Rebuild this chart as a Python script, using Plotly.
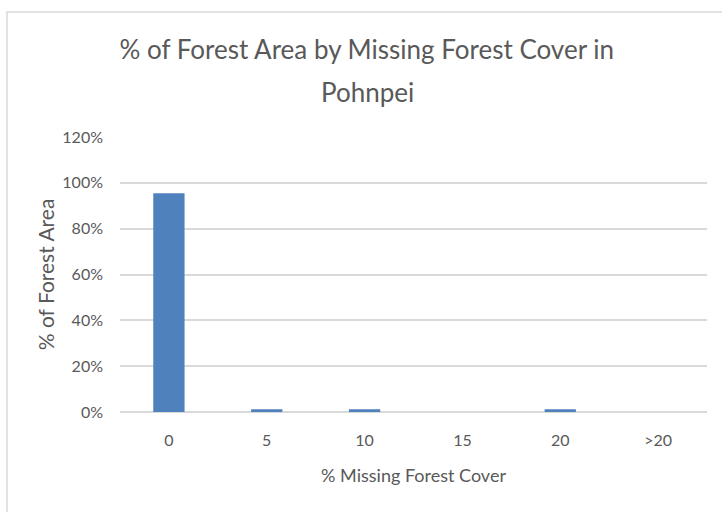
import plotly.graph_objects as go

categories = ["0", "5", "10", "15", "20", ">20"]
values = [0.955, 0.012, 0.012, 0.0, 0.012, 0.0]
y_ticks = [0, 0.2, 0.4, 0.6, 0.8, 1.0, 1.2]
y_tick_labels = ["0%", "20%", "40%", "60%", "80%", "100%", "120%"]
title_line1 = "% of Forest Area by Missing Forest Cover in"
title_line2 = "Pohnpei"

FONT = "Lato"
GRAY = "#595959"

fig = go.Figure(go.Bar(
    x=categories, y=values, width=0.32,
    marker=dict(color="#4F81BD", line=dict(width=0)),
))

fig.update_layout(
    width=722, height=512,
    margin=dict(l=120, r=15, t=137, b=100),
    paper_bgcolor="white", plot_bgcolor="white",
    font=dict(family=FONT, color=GRAY),
    showlegend=False,
    title=dict(
        text=title_line1,
        xref="container", x=0.508, xanchor="center",
        yref="container", y=1 - 50 / 512, yanchor="middle",
        font=dict(family=FONT, size=26, color=GRAY),
    ),
    annotations=[dict(
        text=title_line2, xref="paper", yref="paper",
        x=(367 - 120) / 587, y=1 + (137 - 92) / 275,
        xanchor="center", yanchor="middle", showarrow=False,
        font=dict(family=FONT, size=26, color=GRAY),
    )],
    xaxis=dict(
        type="category", showgrid=False, showline=False, zeroline=False,
        ticks="", ticklabelstandoff=17, tickfont=dict(size=16, color=GRAY),
        title=dict(text="% Missing Forest Cover", font=dict(size=18, color=GRAY), standoff=21),
    ),
    yaxis=dict(
        range=[0, 1.2], tickvals=y_ticks, ticktext=y_tick_labels,
        showgrid=True, gridcolor="#D9D9D9", gridwidth=1.5,
        zeroline=True, zerolinecolor="#D9D9D9", zerolinewidth=1.5,
        showline=False, ticks="", ticklabelstandoff=16,
        tickfont=dict(size=16, color=GRAY),
        title=dict(text="% of Forest Area", font=dict(size=21, color=GRAY), standoff=1),
    ),
    shapes=[dict(
        type="rect", xref="paper", yref="paper",
        x0=(7 - 120) / 587, x1=1.1, y0=-0.5, y1=1 + (137 - 12) / 275,
        line=dict(color="#D9D9D9", width=1.5), fillcolor="rgba(0,0,0,0)", layer="below",
    )],
)

fig.write_html("out.html", config={"displayModeBar": False},
               post_script="document.body.style.margin='0';")
